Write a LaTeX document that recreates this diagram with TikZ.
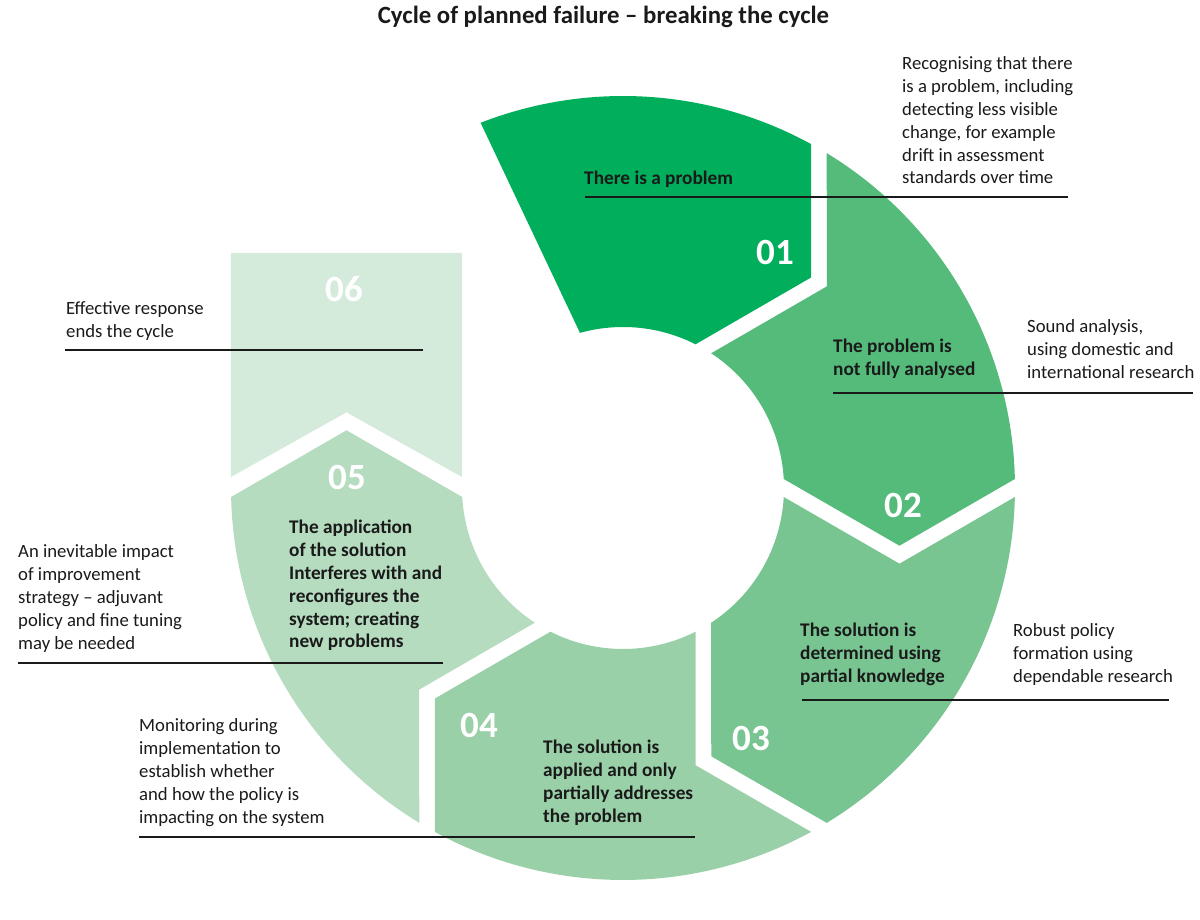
\documentclass[tikz,border=0pt]{standalone}
\usepackage{fontspec}
\setmainfont{Carlito}
\definecolor{c1}{HTML}{00AE5B}
\definecolor{c2}{HTML}{55BB7B}
\definecolor{c3}{HTML}{79C592}
\definecolor{c4}{HTML}{99D0A8}
\definecolor{c5}{HTML}{B5DCBF}
\definecolor{c6}{HTML}{D4EBDB}
\definecolor{txt}{HTML}{1A1A1A}
\newcommand\ml[1]{\vtop{\halign{##\hfil\cr#1\crcr}}}
\begin{document}
\begin{tikzpicture}[x=1pt,y=1pt,
  num/.style={text=white,font=\fontsize{37}{37}\selectfont\bfseries,inner sep=0,anchor=center},
  body/.style={font=\fontsize{18.7}{22.8}\selectfont,text=txt,inner sep=0,anchor=base west},
  lab/.style={font=\fontsize{19.3}{22.8}\selectfont\bfseries,text=txt,inner sep=0,anchor=base west},
  uline/.style={draw=txt,line width=1.6pt}]
\useasboundingbox (-623,-432) rectangle (577,488);
% segments (centre of ring at origin)
\fill[c1] (111.3:392) arc[start angle=111.3,end angle=61.316,radius=392] -- (48.21:282.46) -- (63.205:161) arc[start angle=63.205,end angle=105.5,radius=161] -- cycle;
\foreach \s/\c in {60/c2,0/c3,-60/c4,-120/c5}{
  \pgfmathsetmacro\e{\s-60}
  \fill[\c] ({\s-1.316}:392) arc[start angle={\s-1.316}, end angle={\e+1.316}, radius=392] -- ({\e-11.79}:282.46) -- ({\e+3.205}:161) arc[start angle={\e+3.205}, end angle={\s-3.205}, radius=161] -- ({\s-15.31}:286.67) -- cycle;
}
\fill[c6] (-392,235) -- (-161,235) -- (-161,11) -- (-276.5,75.7) -- (-392,11) -- cycle;
% texts in image coordinates
\begin{scope}[shift={(-623,488)},yscale=-1]
\node[font=\fontsize{24.8}{28}\selectfont\bfseries,text=txt,inner sep=0,anchor=base] (title) at (603.5,24) {Cycle of planned failure – breaking the cycle};
\node[num] (n1) at (775,252.5) {01};
\node[num] (n2) at (903,505) {02};
\node[num] (n3) at (751,738.5) {03};
\node[num] (n4) at (479,725.5) {04};
\node[num] (n5) at (347,477.5) {05};
\node[num] (n6) at (344,289.5) {06};
\node[lab] (l1) at (584,185) {There is a problem};
\node[body] (d1) at (902,70) {\ml{Recognising that there\cr is a problem, including\cr detecting less visible\cr change, for example\cr drift in assessment\cr standards over time}};
\node[lab] (l2) at (833,353) {\ml{The problem is\cr not fully analysed}};
\node[body] (d2) at (1027,333) {\ml{Sound analysis,\cr using domestic and\cr international research}};
\node[lab] (l3) at (800,637) {\ml{The solution is\cr determined using\cr partial knowledge}};
\node[body] (d3) at (1013,637) {\ml{Robust policy\cr formation using\cr dependable research}};
\node[lab] (l4) at (543,754) {\ml{The solution is\cr applied and only\cr partially addresses\cr the problem}};
\node[body] (d4) at (139,732) {\ml{Monitoring during\cr implementation to\cr establish whether\cr and how the policy is\cr impacting on the system}};
\node[lab] (l5) at (289,534) {\ml{The application\cr of the solution\cr Interferes with and\cr reconfigures the\cr system; creating\cr new problems}};
\node[body] (d5) at (18,558) {\ml{An inevitable impact\cr of improvement\cr strategy – adjuvant\cr policy and fine tuning\cr may be needed}};
\node[body] (d6) at (66,315) {\ml{Effective response\cr ends the cycle}};
\coordinate (u1a) at (585,197); \coordinate (u1b) at (1068,197);
\coordinate (u2a) at (833,393); \coordinate (u2b) at (1193,393);
\coordinate (u3a) at (802,700); \coordinate (u3b) at (1169,700);
\coordinate (u4a) at (139,837); \coordinate (u4b) at (695,837);
\coordinate (u5a) at (18,663);  \coordinate (u5b) at (443,663);
\coordinate (u6a) at (65,350);  \coordinate (u6b) at (423,350);
\draw[uline] (u1a) -- (u1b);
\draw[uline] (u2a) -- (u2b);
\draw[uline] (u3a) -- (u3b);
\draw[uline] (u4a) -- (u4b);
\draw[uline] (u5a) -- (u5b);
\draw[uline] (u6a) -- (u6b);
\end{scope}
\end{tikzpicture}
\end{document}
